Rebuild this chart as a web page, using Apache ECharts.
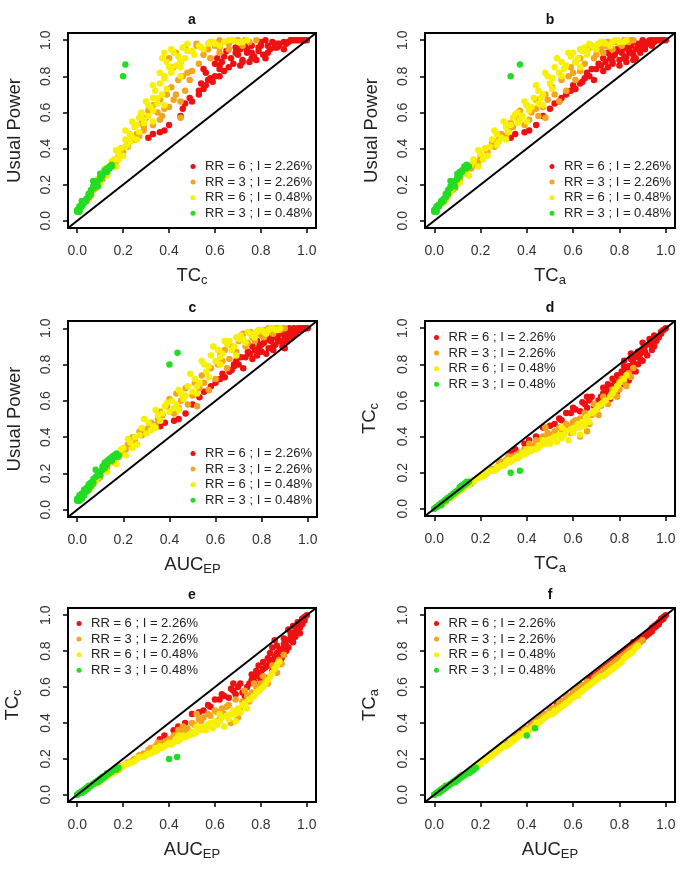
<!DOCTYPE html>
<html>
<head>
<meta charset="utf-8">
<script src="https://cdn.jsdelivr.net/npm/echarts@6.0.0/dist/echarts.min.js"></script>
<style>
  html, body { margin: 0; padding: 0; background: #fff; }
  #main { width: 690px; height: 872px; }
</style>
</head>
<body>
<div id="main"></div>
<script>
// each row: [AUC_EP, TC_a, TC_c, Usual Power]
const red = [
  [0.36, 0.33, 0.31, 0.46], [0.38, 0.35, 0.33, 0.48], [0.44, 0.41, 0.38, 0.50], [0.47, 0.44, 0.40, 0.53],
  [0.55, 0.52, 0.47, 0.65], [0.58, 0.55, 0.49, 0.68], [0.62, 0.59, 0.53, 0.72], [0.64, 0.61, 0.55, 0.73],
  [0.66, 0.63, 0.54, 0.76], [0.68, 0.65, 0.58, 0.79], [0.70, 0.67, 0.60, 0.80], [0.72, 0.69, 0.57, 0.78],
  [0.73, 0.70, 0.55, 0.84], [0.75, 0.72, 0.62, 0.86], [0.77, 0.74, 0.63, 0.88], [0.78, 0.75, 0.66, 0.85],
  [0.79, 0.76, 0.61, 0.90], [0.80, 0.77, 0.68, 0.87], [0.81, 0.78, 0.70, 0.92], [0.82, 0.79, 0.65, 0.94],
  [0.83, 0.80, 0.72, 0.89], [0.84, 0.81, 0.74, 0.93], [0.85, 0.82, 0.69, 0.96], [0.86, 0.83, 0.77, 0.91],
  [0.87, 0.84, 0.79, 0.94], [0.88, 0.84, 0.73, 0.97], [0.89, 0.86, 0.81, 0.92], [0.90, 0.87, 0.84, 0.95],
  [0.91, 0.88, 0.80, 0.97], [0.92, 0.89, 0.86, 0.96], [0.93, 0.90, 0.88, 0.98], [0.94, 0.92, 0.85, 0.99],
  [0.95, 0.93, 0.91, 0.98], [0.96, 0.94, 0.93, 1.00], [0.97, 0.95, 0.90, 0.99], [0.98, 0.97, 0.95, 1.00],
  [0.99, 0.98, 0.97, 1.00], [1.00, 1.00, 1.00, 1.00], [0.85, 0.82, 0.82, 0.90], [0.88, 0.85, 0.76, 0.93],
  [0.76, 0.73, 0.64, 0.83], [0.92, 0.90, 0.92, 0.99], [0.60, 0.57, 0.53, 0.70], [0.83, 0.81, 0.76, 0.97],
  [0.42, 0.39, 0.36, 0.49], [0.50, 0.47, 0.45, 0.58], [0.53, 0.50, 0.46, 0.62],
  [0.57, 0.54, 0.50, 0.66], [0.63, 0.60, 0.56, 0.75], [0.67, 0.64, 0.59, 0.77], [0.69, 0.66, 0.56, 0.82],
  [0.71, 0.68, 0.62, 0.84], [0.74, 0.71, 0.60, 0.87], [0.76, 0.73, 0.67, 0.90], [0.78, 0.75, 0.69, 0.93],
  [0.80, 0.77, 0.64, 0.91], [0.81, 0.79, 0.74, 0.95], [0.82, 0.80, 0.71, 0.86], [0.84, 0.82, 0.79, 0.96],
  [0.85, 0.83, 0.75, 0.88], [0.86, 0.84, 0.71, 0.95], [0.87, 0.85, 0.83, 0.97], [0.88, 0.86, 0.80, 0.99],
  [0.89, 0.87, 0.76, 0.90], [0.90, 0.88, 0.87, 0.98], [0.91, 0.89, 0.83, 0.93], [0.92, 0.90, 0.82, 1.00],
  [0.93, 0.91, 0.90, 0.95], [0.94, 0.93, 0.94, 1.00], [0.95, 0.94, 0.88, 0.97], [0.96, 0.95, 0.96, 1.00],
  [0.97, 0.96, 0.93, 1.00], [0.98, 0.98, 0.98, 1.00], [0.99, 0.99, 0.99, 1.00], [0.90, 0.86, 0.78, 0.89],
  [0.79, 0.77, 0.72, 0.88], [0.86, 0.85, 0.86, 0.98], [0.94, 0.91, 0.87, 0.96], [0.68, 0.66, 0.62, 0.80]
];
const orange = [
  [0.07, 0.06, 0.06, 0.14], [0.10, 0.09, 0.08, 0.18], [0.13, 0.11, 0.11, 0.23], [0.16, 0.14, 0.13, 0.26],
  [0.19, 0.17, 0.16, 0.31], [0.22, 0.20, 0.18, 0.36], [0.25, 0.23, 0.20, 0.38], [0.28, 0.26, 0.22, 0.41],
  [0.31, 0.28, 0.25, 0.45], [0.34, 0.31, 0.27, 0.47], [0.37, 0.34, 0.29, 0.52], [0.40, 0.37, 0.31, 0.61],
  [0.42, 0.39, 0.33, 0.53], [0.45, 0.42, 0.35, 0.60], [0.48, 0.45, 0.37, 0.58], [0.50, 0.47, 0.40, 0.63],
  [0.53, 0.49, 0.42, 0.67], [0.55, 0.52, 0.43, 0.70], [0.57, 0.54, 0.45, 0.66], [0.52, 0.48, 0.45, 0.57],
  [0.60, 0.57, 0.47, 0.72], [0.62, 0.59, 0.42, 0.85], [0.65, 0.61, 0.49, 0.78], [0.67, 0.63, 0.40, 0.90],
  [0.70, 0.66, 0.43, 0.93], [0.72, 0.68, 0.52, 0.97], [0.74, 0.70, 0.55, 0.92], [0.76, 0.72, 0.57, 0.95],
  [0.78, 0.74, 0.60, 0.97], [0.80, 0.76, 0.62, 0.96], [0.82, 0.78, 0.64, 0.99], [0.84, 0.80, 0.66, 0.98],
  [0.86, 0.82, 0.70, 1.00], [0.88, 0.84, 0.75, 0.99], [0.90, 0.86, 0.78, 1.00], [0.35, 0.32, 0.29, 0.50],
  [0.44, 0.41, 0.36, 0.56], [0.63, 0.60, 0.48, 0.82], [0.46, 0.44, 0.38, 0.62], [0.27, 0.25, 0.22, 0.43],
  [0.05, 0.05, 0.04, 0.12], [0.09, 0.08, 0.07, 0.17], [0.12, 0.11, 0.10, 0.22], [0.15, 0.13, 0.12, 0.27],
  [0.18, 0.16, 0.14, 0.29], [0.21, 0.19, 0.17, 0.33], [0.24, 0.22, 0.19, 0.40], [0.29, 0.27, 0.23, 0.44],
  [0.32, 0.29, 0.26, 0.48], [0.36, 0.33, 0.28, 0.54], [0.39, 0.36, 0.30, 0.57], [0.43, 0.40, 0.33, 0.64],
  [0.47, 0.44, 0.36, 0.67], [0.51, 0.48, 0.39, 0.70], [0.54, 0.51, 0.41, 0.74], [0.58, 0.55, 0.44, 0.78],
  [0.61, 0.58, 0.46, 0.80], [0.64, 0.61, 0.45, 0.88], [0.66, 0.63, 0.50, 0.83], [0.69, 0.65, 0.53, 0.87],
  [0.71, 0.67, 0.47, 0.96], [0.73, 0.69, 0.58, 0.90], [0.75, 0.71, 0.52, 0.98], [0.77, 0.73, 0.62, 0.93],
  [0.79, 0.75, 0.58, 0.99], [0.81, 0.77, 0.66, 0.95], [0.83, 0.79, 0.62, 1.00], [0.85, 0.81, 0.72, 0.97],
  [0.87, 0.83, 0.68, 1.00], [0.89, 0.85, 0.73, 1.00]
];
const yellow = [
  [0.06, 0.05, 0.05, 0.12], [0.08, 0.07, 0.06, 0.16], [0.10, 0.09, 0.08, 0.19], [0.12, 0.10, 0.10, 0.22],
  [0.14, 0.12, 0.11, 0.26], [0.16, 0.14, 0.13, 0.27], [0.18, 0.16, 0.15, 0.31], [0.20, 0.17, 0.16, 0.34],
  [0.21, 0.19, 0.17, 0.30], [0.23, 0.20, 0.18, 0.37], [0.25, 0.22, 0.19, 0.40], [0.26, 0.23, 0.20, 0.36],
  [0.28, 0.25, 0.21, 0.45], [0.30, 0.27, 0.22, 0.42], [0.31, 0.27, 0.23, 0.48], [0.33, 0.29, 0.24, 0.46],
  [0.35, 0.31, 0.25, 0.52], [0.36, 0.32, 0.27, 0.49], [0.38, 0.34, 0.27, 0.57], [0.40, 0.36, 0.29, 0.54],
  [0.41, 0.36, 0.28, 0.60], [0.43, 0.38, 0.31, 0.58], [0.45, 0.40, 0.31, 0.64], [0.46, 0.41, 0.33, 0.61],
  [0.48, 0.43, 0.33, 0.68], [0.50, 0.45, 0.35, 0.65], [0.51, 0.45, 0.34, 0.72], [0.53, 0.47, 0.37, 0.70],
  [0.55, 0.49, 0.38, 0.80], [0.56, 0.50, 0.36, 0.76], [0.58, 0.52, 0.40, 0.85], [0.60, 0.54, 0.41, 0.82],
  [0.61, 0.55, 0.39, 0.88], [0.63, 0.57, 0.43, 0.86], [0.65, 0.59, 0.44, 0.91], [0.66, 0.60, 0.42, 0.93],
  [0.68, 0.62, 0.47, 0.90], [0.70, 0.64, 0.48, 0.94], [0.71, 0.65, 0.46, 0.96], [0.73, 0.66, 0.51, 0.92],
  [0.75, 0.68, 0.53, 0.97], [0.77, 0.70, 0.55, 0.95], [0.78, 0.71, 0.57, 0.98], [0.80, 0.73, 0.59, 0.99],
  [0.82, 0.76, 0.62, 0.97], [0.84, 0.78, 0.66, 1.00], [0.86, 0.80, 0.70, 0.99], [0.88, 0.83, 0.74, 1.00],
  [0.69, 0.63, 0.45, 0.85], [0.57, 0.51, 0.39, 0.73],
  [0.04, 0.04, 0.03, 0.10], [0.07, 0.06, 0.06, 0.15], [0.09, 0.08, 0.07, 0.18], [0.11, 0.10, 0.09, 0.23],
  [0.13, 0.11, 0.10, 0.21], [0.15, 0.13, 0.12, 0.29], [0.17, 0.15, 0.13, 0.25], [0.19, 0.17, 0.15, 0.33],
  [0.22, 0.19, 0.17, 0.39], [0.24, 0.21, 0.18, 0.34], [0.27, 0.24, 0.21, 0.41], [0.29, 0.26, 0.21, 0.50],
  [0.32, 0.28, 0.23, 0.44], [0.34, 0.30, 0.24, 0.55], [0.37, 0.33, 0.26, 0.53], [0.39, 0.35, 0.28, 0.59],
  [0.42, 0.37, 0.29, 0.56], [0.44, 0.39, 0.30, 0.66], [0.47, 0.42, 0.32, 0.63], [0.49, 0.44, 0.33, 0.75],
  [0.52, 0.46, 0.35, 0.68], [0.54, 0.48, 0.36, 0.82], [0.57, 0.51, 0.38, 0.79], [0.59, 0.53, 0.37, 0.90],
  [0.62, 0.56, 0.41, 0.84], [0.64, 0.58, 0.38, 0.93], [0.67, 0.61, 0.45, 0.88], [0.69, 0.63, 0.41, 0.95],
  [0.72, 0.66, 0.50, 0.94], [0.74, 0.67, 0.48, 0.98], [0.76, 0.69, 0.54, 0.96], [0.79, 0.72, 0.58, 0.99],
  [0.81, 0.74, 0.60, 0.98], [0.83, 0.77, 0.64, 0.99], [0.85, 0.79, 0.68, 1.00], [0.87, 0.82, 0.72, 0.99],
  [0.62, 0.55, 0.45, 0.80], [0.52, 0.47, 0.38, 0.64], [0.44, 0.40, 0.33, 0.55], [0.34, 0.31, 0.26, 0.45]
];
const green = [
  [0.00, 0.00, 0.00, 0.05], [0.00, 0.00, 0.00, 0.06], [0.01, 0.01, 0.01, 0.05], [0.01, 0.01, 0.01, 0.07],
  [0.01, 0.01, 0.01, 0.08], [0.02, 0.01, 0.01, 0.06], [0.02, 0.02, 0.02, 0.08], [0.02, 0.02, 0.02, 0.09],
  [0.03, 0.02, 0.02, 0.08], [0.03, 0.03, 0.03, 0.10], [0.03, 0.03, 0.02, 0.11], [0.04, 0.03, 0.03, 0.10],
  [0.04, 0.04, 0.04, 0.12], [0.05, 0.04, 0.04, 0.11], [0.05, 0.05, 0.05, 0.14], [0.06, 0.05, 0.05, 0.13],
  [0.06, 0.05, 0.05, 0.15], [0.07, 0.06, 0.06, 0.15], [0.07, 0.06, 0.06, 0.17], [0.08, 0.07, 0.07, 0.18],
  [0.08, 0.07, 0.07, 0.22], [0.09, 0.07, 0.07, 0.19], [0.09, 0.08, 0.08, 0.20], [0.10, 0.08, 0.08, 0.21],
  [0.10, 0.09, 0.09, 0.19], [0.11, 0.09, 0.09, 0.22], [0.11, 0.10, 0.10, 0.24], [0.12, 0.10, 0.10, 0.23],
  [0.12, 0.10, 0.10, 0.26], [0.13, 0.11, 0.11, 0.25], [0.13, 0.11, 0.12, 0.27], [0.14, 0.12, 0.12, 0.28],
  [0.15, 0.12, 0.13, 0.27], [0.15, 0.13, 0.13, 0.29], [0.16, 0.13, 0.14, 0.30], [0.17, 0.14, 0.14, 0.29],
  [0.17, 0.14, 0.15, 0.31], [0.18, 0.15, 0.15, 0.30], [0.40, 0.33, 0.20, 0.80], [0.435, 0.37, 0.21, 0.865]
];

const groups = [
  { name: 'RR = 6 ; I = 2.26%', rows: red, color: '#ee1111' },
  { name: 'RR = 3 ; I = 2.26%', rows: orange, color: '#f5a41f' },
  { name: 'RR = 6 ; I = 0.48%', rows: yellow, color: '#f7f000' },
  { name: 'RR = 3 ; I = 0.48%', rows: green, color: '#22dd22' }
];
const tickValues = [0, 0.2, 0.4, 0.6, 0.8, 1.0];

const AUC = 0, TCA = 1, TCC = 2, POW = 3;
const axisNames = {};
axisNames[AUC] = '{m|AUC}{s|EP}';
axisNames[TCA] = '{m|TC}{s|a}';
axisNames[TCC] = '{m|TC}{s|c}';
axisNames[POW] = '{m|Usual Power}';

// panel layout (pixels)
const panels = [
  { title: 'a', x: TCC, y: POW, left: 68, top: 33, width: 248, height: 195, lx: 190.5, ly: 159 },
  { title: 'b', x: TCA, y: POW, left: 425, top: 33, width: 250, height: 195, lx: 549.5, ly: 159 },
  { title: 'c', x: AUC, y: POW, left: 68, top: 321, width: 249, height: 196, lx: 190.5, ly: 446 },
  { title: 'd', x: TCA, y: TCC, left: 425, top: 321, width: 250, height: 195, lx: 434, ly: 330 },
  { title: 'e', x: AUC, y: TCC, left: 68, top: 608, width: 248, height: 194, lx: 76.5, ly: 616 },
  { title: 'f', x: AUC, y: TCA, left: 425, top: 608, width: 250, height: 194, lx: 434, ly: 616 }
];

const FONT = '"Liberation Sans", Arial, Helvetica, sans-serif';
const nameRich = {
  m: { fontSize: 18.5, fontFamily: FONT, color: '#222' },
  s: { fontSize: 13, fontFamily: FONT, color: '#222', padding: [9, 0, 0, 0] }
};

function makeAxis(i, dim, isY) {
  return {
    type: 'value',
    gridIndex: i,
    min: -0.04,
    max: 1.04,
    name: axisNames[dim],
    nameLocation: 'middle',
    nameGap: isY ? 44 : 37,
    nameTextStyle: { rich: nameRich },
    axisLine: { show: false, onZero: false },
    splitLine: { show: false },
    axisTick: { show: true, inside: false, length: 5, customValues: tickValues, lineStyle: { color: '#000', width: 1.5 } },
    axisLabel: {
      customValues: tickValues,
      rotate: isY ? 90 : 0,
      margin: isY ? 15 : 16,
      fontSize: 14,
      fontFamily: FONT,
      color: '#333',
      formatter: v => v.toFixed(1)
    }
  };
}

const chart = echarts.init(document.getElementById('main'));
const option = {
  backgroundColor: '#fff',
  animation: false,
  title: panels.map(p => ({
    text: p.title,
    left: p.left + p.width / 2,
    top: p.top - 20,
    textAlign: 'center',
    padding: 0,
    textStyle: { fontSize: 14, fontWeight: 'bold', fontFamily: FONT, color: '#111' }
  })),
  grid: panels.map(p => ({
    left: p.left, top: p.top, width: p.width, height: p.height,
    show: true, borderColor: '#000', borderWidth: 2, backgroundColor: '#fff',
    containLabel: false, outerBoundsMode: 'none'
  })),
  xAxis: panels.map((p, i) => makeAxis(i, p.x, false)),
  yAxis: panels.map((p, i) => makeAxis(i, p.y, true)),
  legend: panels.map(p => ({
    data: groups.map(g => g.name),
    orient: 'vertical',
    left: p.lx,
    top: p.ly,
    padding: 0,
    itemGap: 0.6,
    itemWidth: 14,
    itemHeight: 5,
    icon: 'circle',
    selectedMode: false,
    textStyle: { fontSize: 13, lineHeight: 15, fontFamily: FONT, color: '#222' }
  })),
  series: []
};

panels.forEach((p, i) => {
  groups.forEach(g => {
    option.series.push({
      type: 'scatter',
      name: g.name,
      xAxisIndex: i,
      yAxisIndex: i,
      symbolSize: 6.5,
      silent: true,
      itemStyle: { color: g.color, opacity: 1 },
      data: g.rows.map(r => [r[p.x], r[p.y]])
    });
  });
  // y = x reference line across the plot region
  option.series.push({
    type: 'line',
    xAxisIndex: i,
    yAxisIndex: i,
    symbol: 'none',
    silent: true,
    z: 5,
    lineStyle: { color: '#000', width: 2 },
    data: [[-0.04, -0.04], [1.04, 1.04]]
  });
});

chart.setOption(option);
</script>
</body>
</html>
